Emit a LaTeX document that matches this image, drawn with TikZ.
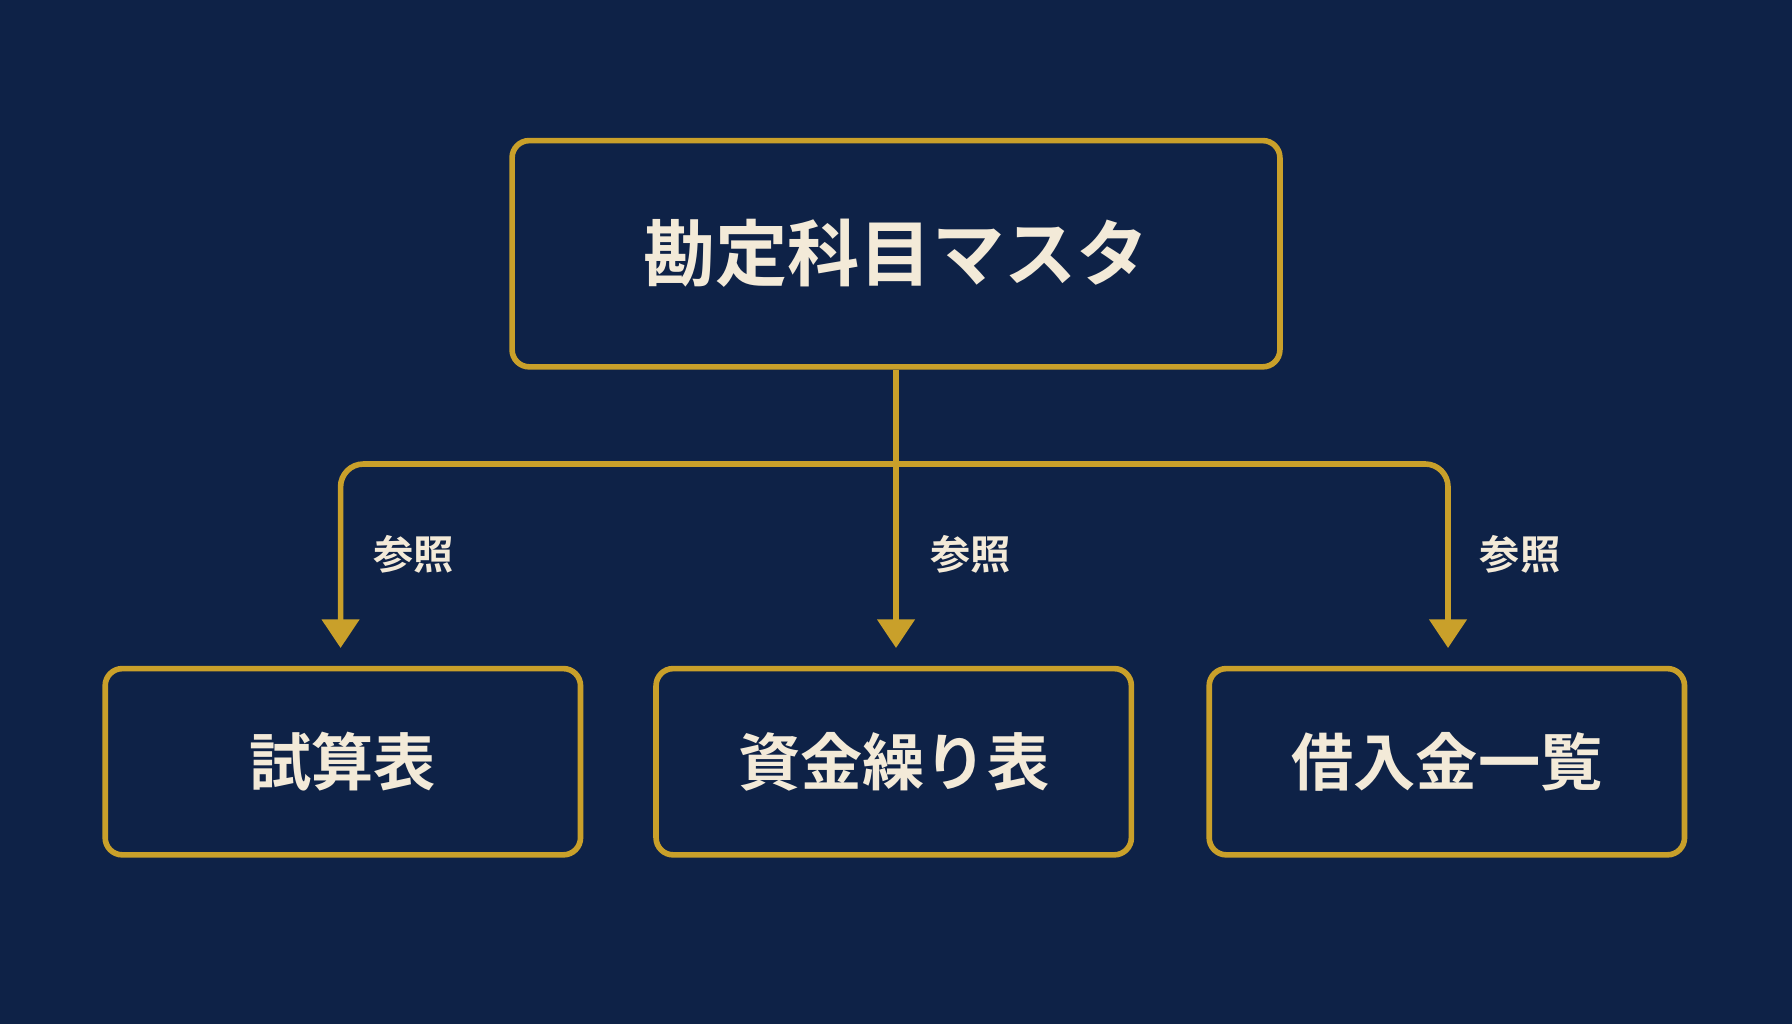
\documentclass[tikz,border=0pt]{standalone}
\usepackage{fontspec}
\setmainfont{Noto Sans CJK JP Bold}
\usetikzlibrary{arrows.meta}
\definecolor{bg}{HTML}{0E2247}
\definecolor{gold}{HTML}{C9A02A}
\definecolor{txt}{HTML}{F3EAD8}
\begin{document}
\begin{tikzpicture}[x=0.02cm,y=-0.02cm,
  box/.style={draw=gold,line width=2.8pt,rounded corners=0.3cm,text=txt,inner sep=0pt},
  conn/.style={draw=gold,line width=2.8pt,rounded corners=0.4cm,shorten >=0.36cm,-{Triangle[width=0.64cm,length=0.5cm]}},
  lab/.style={text=txt,font=\fontsize{20}{24}\selectfont}]
\fill[bg] (0,0) rectangle (1568,896);
\useasboundingbox (0,0) rectangle (1568,896);
\node[box,minimum width=13.44cm,minimum height=3.96cm,font=\fontsize{36}{40}\selectfont] (top) at (784,222) {勘定科目マスタ};
\node[box,minimum width=8.32cm,minimum height=3.26cm,font=\fontsize{31}{36}\selectfont] (b1) at (300,666.5) {試算表};
\node[box,minimum width=8.32cm,minimum height=3.26cm,font=\fontsize{31}{36}\selectfont] (b2) at (782,666.5) {資金繰り表};
\node[box,minimum width=8.32cm,minimum height=3.26cm,font=\fontsize{31}{36}\selectfont] (b3) at (1266,666.5) {借入金一覧};
\coordinate (j) at (784,406);
\coordinate (t1) at (298,585);
\coordinate (t2) at (784,585);
\coordinate (t3) at (1267,585);
\draw[conn] (top.south) -- (t2);
\draw[conn] (j) -| (t1);
\draw[conn] (j) -| (t3);
\node[lab] (l1) at (362,485) {参照};
\node[lab] (l2) at (849,485) {参照};
\node[lab] (l3) at (1330,485) {参照};
\end{tikzpicture}
\end{document}
